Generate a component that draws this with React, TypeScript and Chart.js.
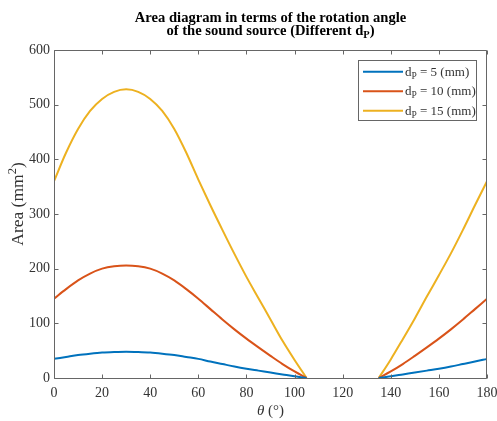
import React, { useEffect, useRef } from "react";
import { Chart, registerables } from "chart.js";
Chart.register(...registerables);

const thetaDeg = [0, 5, 10, 15, 20, 25, 30, 35, 40, 45, 50, 55, 60, 65, 70, 75, 80, 85, 90, 95, 100, 105, 110, 115, 120, 125, 130, 135, 140, 145, 150, 155, 160, 165, 170, 175, 180];
const areaDp5 = [35, 38.5, 42, 44.5, 46.5, 47.5, 48, 47.5, 46.5, 44.5, 42, 38.5, 35, 30, 25.5, 21, 17, 13.5, 10, 6.5, 3, 0, null, null, null, null, null, 0, 3, 6.5, 10, 13.5, 17, 21, 25.5, 30, 35];
const areaDp10 = [145, 162.5, 178.5, 191, 200, 204.5, 206, 204.5, 200, 191, 178.5, 162.5, 145, 126, 107, 89, 72, 56, 40.5, 25.5, 12, 0, null, null, null, null, null, 0, 12, 25.5, 40.5, 56, 72, 89, 107, 126, 145];
const areaDp15 = [360, 412, 455.5, 488.5, 510.5, 523.5, 528, 523.5, 510.5, 488.5, 455.5, 412, 363, 316, 271, 227, 185, 146, 107, 68, 33, 0, null, null, null, null, null, 0, 34, 71, 109, 149, 188, 228, 271, 316, 360];
const seriesValues = [areaDp5, areaDp10, areaDp15];
const seriesDp = ["5", "10", "15"];
const seriesColors = ["#0072BD", "#D95319", "#EDB120"];
const xTickValues = [0, 20, 40, 60, 80, 100, 120, 140, 160, 180];
const yTickValues = [0, 100, 200, 300, 400, 500, 600];
const titleLine1 = "Area diagram in terms of the rotation angle";
const titleLine2 = "of the sound source (Different d";
const xTitle = "θ";
const xTitleRest = " (°)";
const yTitle = "Area (mm";

const FONT = "'Liberation Serif', 'Times New Roman', Times, serif";
const AXIS_COLOR = "#666666";
const TEXT_COLOR = "#333333";

type Run = { text: string; size: number; bold?: boolean; italic?: boolean; dy?: number };

function runFont(r: Run) {
  return `${r.italic ? "italic " : ""}${r.bold ? "bold " : ""}${r.size}px ${FONT}`;
}

function drawRuns(ctx: CanvasRenderingContext2D, runs: Run[], x: number, y: number, align: "center" | "left") {
  ctx.textAlign = "left";
  ctx.textBaseline = "alphabetic";
  let total = 0;
  const widths = runs.map((r) => {
    ctx.font = runFont(r);
    const w = ctx.measureText(r.text).width;
    total += w;
    return w;
  });
  let cx = align === "center" ? x - total / 2 : x;
  runs.forEach((r, i) => {
    ctx.font = runFont(r);
    ctx.fillText(r.text, cx, y + (r.dy || 0));
    cx += widths[i];
  });
}

const decorPlugin = {
  id: "matlabDecor",
  afterDraw(chart: any) {
    const ctx: CanvasRenderingContext2D = chart.ctx;
    const { left, right, top, bottom } = chart.chartArea;
    const xs = chart.scales.x;
    const ys = chart.scales.y;
    ctx.save();
    ctx.strokeStyle = AXIS_COLOR;
    ctx.lineWidth = 1;
    const L = Math.round(left) + 0.5;
    const R = Math.round(right) - 0.5;
    const T = Math.round(top) + 0.5;
    const B = Math.round(bottom) + 0.5;
    ctx.beginPath();
    ctx.rect(L, T, R - L, B - T);
    ctx.stroke();
    const tl = 4;
    ctx.beginPath();
    xTickValues.forEach((v) => {
      const px = Math.round(xs.getPixelForValue(v)) + 0.5;
      ctx.moveTo(px, B);
      ctx.lineTo(px, B - tl);
      ctx.moveTo(px, T);
      ctx.lineTo(px, T + tl);
    });
    yTickValues.forEach((v) => {
      const py = Math.round(ys.getPixelForValue(v)) + 0.5;
      ctx.moveTo(L, py);
      ctx.lineTo(L + tl, py);
      ctx.moveTo(R, py);
      ctx.lineTo(R - tl, py);
    });
    ctx.stroke();

    ctx.fillStyle = "#000000";
    const cxTitle = (left + right) / 2;
    drawRuns(ctx, [{ text: titleLine1, size: 14.6, bold: true }], cxTitle, 22, "center");
    drawRuns(
      ctx,
      [
        { text: titleLine2, size: 14.6, bold: true },
        { text: "P", size: 10.5, bold: true, dy: 3 },
        { text: ")", size: 14.6, bold: true },
      ],
      cxTitle,
      35,
      "center"
    );

    ctx.fillStyle = TEXT_COLOR;
    drawRuns(
      ctx,
      [
        { text: xTitle, size: 15, italic: true },
        { text: xTitleRest, size: 15 },
      ],
      cxTitle,
      415,
      "center"
    );

    ctx.save();
    ctx.translate(23, 204);
    ctx.rotate(-Math.PI / 2);
    drawRuns(
      ctx,
      [
        { text: yTitle, size: 17.5 },
        { text: "2", size: 12.5, dy: -7 },
        { text: ")", size: 17.5 },
      ],
      0,
      0,
      "center"
    );
    ctx.restore();

    const bx = 358.5, by = 60.5, bw = 118, bh = 60;
    ctx.fillStyle = "#ffffff";
    ctx.fillRect(bx, by, bw, bh);
    ctx.strokeStyle = AXIS_COLOR;
    ctx.lineWidth = 1;
    ctx.strokeRect(bx, by, bw, bh);
    seriesDp.forEach((d, i) => {
      const cy = 71.7 + i * 19.5;
      ctx.strokeStyle = seriesColors[i];
      ctx.lineWidth = 2;
      ctx.beginPath();
      ctx.moveTo(363, cy);
      ctx.lineTo(403, cy);
      ctx.stroke();
      ctx.fillStyle = TEXT_COLOR;
      drawRuns(
        ctx,
        [
          { text: "d", size: 13 },
          { text: "P", size: 9.5, dy: 3 },
          { text: ` = ${d} (mm)`, size: 13 },
        ],
        405,
        cy + 4,
        "left"
      );
    });
    ctx.restore();
  },
};

export default function App() {
  const canvasRef = useRef<HTMLCanvasElement | null>(null);
  useEffect(() => {
    if (!canvasRef.current) return;
    const chart = new Chart(canvasRef.current, {
      type: "line",
      data: {
        datasets: seriesValues.map((vals, i) => ({
          label: `dP = ${seriesDp[i]} (mm)`,
          data: thetaDeg.map((t, j) => ({ x: t, y: vals[j] })),
          borderColor: seriesColors[i],
          backgroundColor: seriesColors[i],
          borderWidth: 2,
          pointRadius: 0,
          fill: false,
          spanGaps: false,
          cubicInterpolationMode: "monotone",
        })),
      },
      options: {
        animation: false,
        responsive: false,
        devicePixelRatio: 1,
        layout: { padding: { top: 50, right: 10, left: 0, bottom: 0 } },
        plugins: {
          legend: { display: false },
          title: { display: false },
          tooltip: { enabled: false },
        },
        scales: {
          x: {
            type: "linear",
            min: 0,
            max: 180,
            grid: { display: false, drawTicks: false, tickLength: 0 },
            border: { display: false },
            ticks: {
              stepSize: 20,
              padding: 7,
              maxRotation: 0,
              autoSkip: false,
              color: TEXT_COLOR,
              font: { family: FONT, size: 14 },
            },
            afterBuildTicks: (s: any) => {
              s.ticks = xTickValues.map((v) => ({ value: v }));
            },
            afterFit: (s: any) => {
              s.height = 43;
              s.paddingLeft = 0;
              s.paddingRight = 0;
            },
          },
          y: {
            type: "linear",
            min: 0,
            max: 600,
            grid: { display: false, drawTicks: false, tickLength: 0 },
            border: { display: false },
            ticks: {
              stepSize: 100,
              padding: 4,
              color: TEXT_COLOR,
              font: { family: FONT, size: 14 },
            },
            afterBuildTicks: (s: any) => {
              s.ticks = yTickValues.map((v) => ({ value: v }));
            },
            afterFit: (s: any) => {
              s.width = 54;
              s.paddingTop = 0;
              s.paddingBottom = 0;
            },
          },
        },
      },
      plugins: [decorPlugin],
    } as any);
    return () => chart.destroy();
  }, []);
  return (
    <div style={{ position: "fixed", left: 0, top: 0, width: 497, height: 421, background: "#ffffff" }}>
      <canvas ref={canvasRef} width={497} height={421} style={{ display: "block", width: 497, height: 421 }} />
    </div>
  );
}
